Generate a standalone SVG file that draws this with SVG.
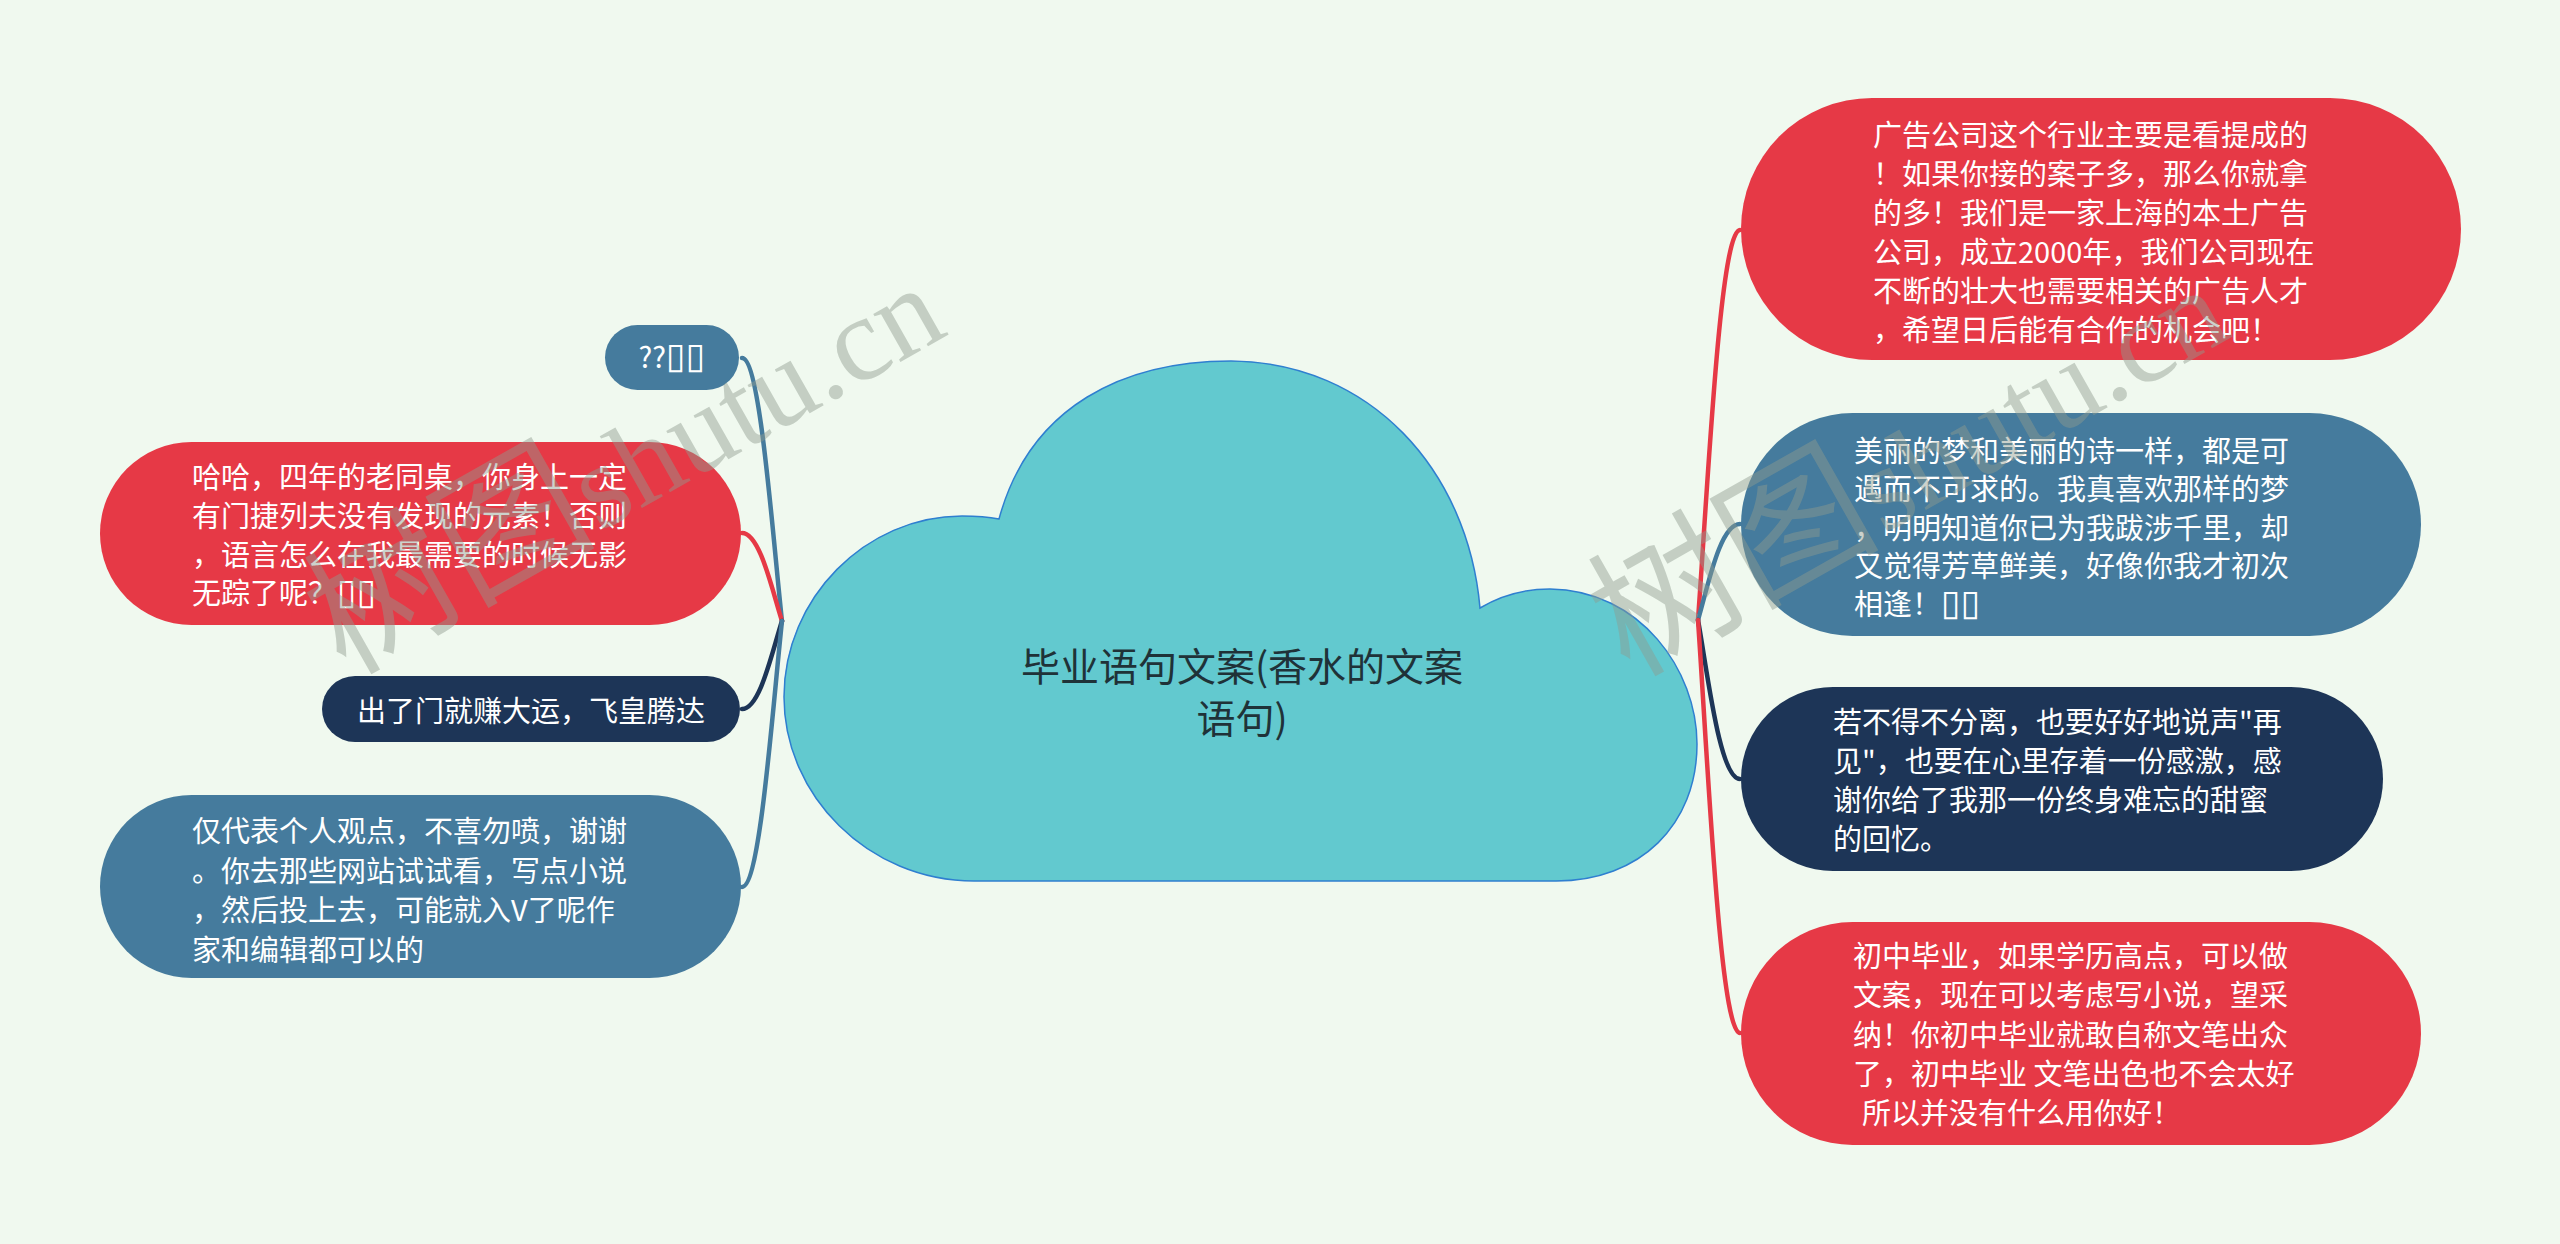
<svg xmlns="http://www.w3.org/2000/svg" width="2560" height="1244" viewBox="0 0 2560 1244">
<style>
.bg{fill:#f0f9ef}
.conn path{fill:none;stroke-width:4.5;stroke-linecap:round}
.r{fill:#e63946}
.b{fill:#457b9d}
.n{fill:#1d3557}
.sr{stroke:#e63946}
.sb{stroke:#457b9d}
.sn{stroke:#1d3557}
.t{font-family:"Noto Sans CJK SC","Microsoft YaHei",sans-serif;font-size:29px;fill:#ffffff}
.c{font-family:"Noto Sans CJK SC","Microsoft YaHei",sans-serif;font-size:39px;fill:#1f3238;text-anchor:middle}
.tofu{font-family:"DejaVu Sans",sans-serif;font-size:36px}
.wm{font-family:"Liberation Serif","Noto Sans CJK SC",serif;font-size:120px;fill:#8f9c8f;opacity:0.45}
.wmc{font-size:146px}
</style>
<rect class="bg" x="0" y="0" width="2560" height="1244"/>
<g id="connectors" class="conn">
<path class="sb" d="M782 621 C772 529,760 358,742 358"/>
<path class="sr" d="M782 621 C772 590,760 533,742 533"/>
<path class="sn" d="M782 621 C772 652,760 709,742 709"/>
<path class="sb" d="M782 621 C772 714,760 887,742 887"/>
<path class="sr" d="M1698 620 C1708 483,1720 230,1740 230"/>
<path class="sb" d="M1698 620 C1708 586,1720 524,1740 524"/>
<path class="sn" d="M1698 620 C1708 676,1720 779,1740 779"/>
<path class="sr" d="M1698 620 C1708 765,1720 1033,1740 1033"/>
</g>
<g id="center">
<path d="M999 519 C1030 405,1125 361,1231 361 C1370 362,1468 470,1480 608 C1500 596,1525 589,1550 589 C1640 590,1697 670,1697 744 C1697 825,1640 881,1556 881 L974 881 C868 881,784 795,784 697 C784 598,866 516,962 516 C976 516,989 517,999 519 Z" fill="#62c9cf" stroke="#2f7fd0" stroke-width="1.5"/>
<text class="c" x="1242" y="681">毕业语句文案(香水的文案</text>
<text class="c" x="1242" y="733">语句)</text>
</g>
<g id="node-l1">
<rect class="b" x="605" y="325" width="134" height="65" rx="32.5"/>
<text class="t" x="672" y="368" text-anchor="middle">??<tspan class="tofu">▯▯</tspan></text>
</g>
<g id="node-l2">
<rect class="r" x="100" y="442" width="641" height="183" rx="91.5"/>
<text class="t" x="192" y="488">哈哈，四年的老同桌，你身上一定</text>
<text class="t" x="192" y="527">有门捷列夫没有发现的元素！否则</text>
<text class="t" x="192" y="566">，语言怎么在我最需要的时候无影</text>
<text class="t" x="192" y="604">无踪了呢？<tspan class="tofu">▯▯</tspan></text>
</g>
<g id="node-l3">
<rect class="n" x="322" y="676" width="418" height="66" rx="33"/>
<text class="t" x="531" y="722" text-anchor="middle">出了门就赚大运，飞皇腾达</text>
</g>
<g id="node-l4">
<rect class="b" x="100" y="795" width="641" height="183" rx="91.5"/>
<text class="t" x="192" y="842">仅代表个人观点，不喜勿喷，谢谢</text>
<text class="t" x="192" y="882">。你去那些网站试试看，写点小说</text>
<text class="t" x="192" y="921">，然后投上去，可能就入V了呢作</text>
<text class="t" x="192" y="961">家和编辑都可以的</text>
</g>
<g id="node-r1">
<rect class="r" x="1741" y="98" width="720" height="262" rx="131"/>
<text class="t" x="1873" y="146">广告公司这个行业主要是看提成的</text>
<text class="t" x="1873" y="185">！如果你接的案子多，那么你就拿</text>
<text class="t" x="1873" y="224">的多！我们是一家上海的本土广告</text>
<text class="t" x="1873" y="263">公司，成立2000年，我们公司现在</text>
<text class="t" x="1873" y="302">不断的壮大也需要相关的广告人才</text>
<text class="t" x="1873" y="341">，希望日后能有合作的机会吧！</text>
</g>
<g id="node-r2">
<rect class="b" x="1741" y="413" width="680" height="223" rx="111.5"/>
<text class="t" x="1854" y="462">美丽的梦和美丽的诗一样，都是可</text>
<text class="t" x="1854" y="500">遇而不可求的。我真喜欢那样的梦</text>
<text class="t" x="1854" y="539">，明明知道你已为我跋涉千里，却</text>
<text class="t" x="1854" y="577">又觉得芳草鲜美，好像你我才初次</text>
<text class="t" x="1854" y="615">相逢！<tspan class="tofu">▯▯</tspan></text>
</g>
<g id="node-r3">
<rect class="n" x="1741" y="687" width="642" height="184" rx="92"/>
<text class="t" x="1833" y="733">若不得不分离，也要好好地说声"再</text>
<text class="t" x="1833" y="772">见"，也要在心里存着一份感激，感</text>
<text class="t" x="1833" y="811">谢你给了我那一份终身难忘的甜蜜</text>
<text class="t" x="1833" y="850">的回忆。</text>
</g>
<g id="node-r4">
<rect class="r" x="1741" y="922" width="680" height="223" rx="111.5"/>
<text class="t" x="1853" y="967">初中毕业，如果学历高点，可以做</text>
<text class="t" x="1853" y="1006">文案，现在可以考虑写小说，望采</text>
<text class="t" x="1853" y="1046">纳！你初中毕业就敢自称文笔出众</text>
<text class="t" x="1853" y="1085">了，初中毕业 文笔出色也不会太好</text>
<text class="t" x="1862" y="1124">所以并没有什么用你好！</text>
</g>
<g id="watermarks">
<text class="wm" transform="translate(345 676) rotate(-29.5)"><tspan class="wmc">树图</tspan>shutu.cn</text>
<text class="wm" transform="translate(1629 678) rotate(-29.5)"><tspan class="wmc">树图</tspan>shutu.cn</text>
</g>
</svg>
